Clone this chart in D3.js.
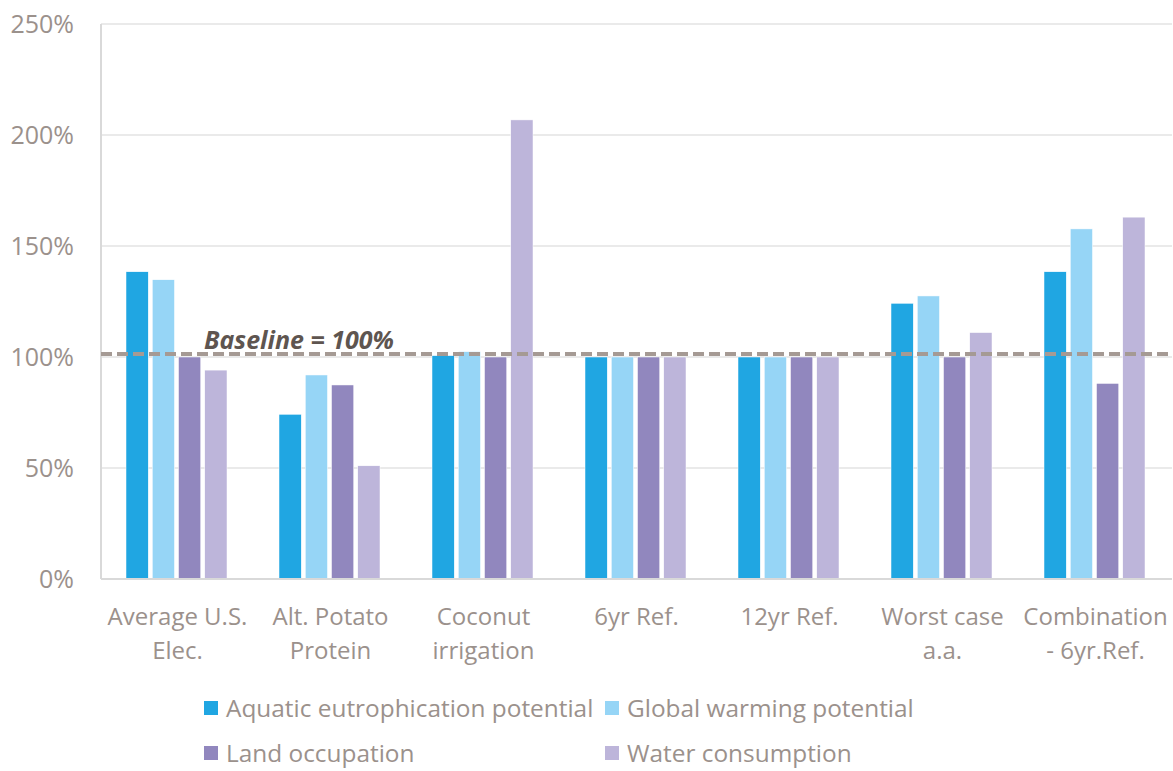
<!DOCTYPE html>
<html>
<head>
<meta charset="utf-8">
<script src="https://cdn.jsdelivr.net/npm/d3@7"></script>
<style>
  body { margin: 0; background: #fff; }
  svg text { font-family: "Open Sans", Lato, sans-serif; }
</style>
</head>
<body>
<div id="chart"></div>
<script>
// categories and series (values as fraction of baseline)
const categories = [
  ['Average U.S.', 'Elec.'],
  ['Alt. Potato', 'Protein'],
  ['Coconut', 'irrigation'],
  ['6yr Ref.'],
  ['12yr Ref.'],
  ['Worst case', 'a.a.'],
  ['Combination', '- 6yr.Ref.']
];
const seriesNames = [
  'Aquatic eutrophication potential',
  'Global warming potential',
  'Land occupation',
  'Water consumption'
];
const aquatic = [1.384, 0.742, 1.006, 1.0, 1.0, 1.242, 1.384];
const warming = [1.348, 0.919, 1.024, 1.0, 1.0, 1.275, 1.577];
const land    = [1.0,   0.874, 1.0,   1.0, 1.0, 1.0,   0.881];
const water   = [0.941, 0.51,  2.068, 1.0, 1.0, 1.11,  1.63];
const yTicks = [0, 0.5, 1, 1.5, 2, 2.5];
const baseline = 1.013;

const colors = ['#20a6e2', '#96d5f6', '#9187be', '#bdb5da'];
const seriesValues = [aquatic, warming, land, water];

const width = 1173, height = 771;
const margin = { top: 24, left: 101, right: 1, bottom: 192 };
const innerW = width - margin.left - margin.right;
const innerH = height - margin.top - margin.bottom;
const textColor = '#9b918c';

const svg = d3.select('#chart').append('svg')
  .attr('width', width)
  .attr('height', height);

const g = svg.append('g')
  .attr('transform', 'translate(' + margin.left + ',' + margin.top + ')');

const x0 = d3.scaleBand()
  .domain(d3.range(categories.length))
  .range([0, innerW])
  .paddingInner(0)
  .paddingOuter(0);

const x1 = d3.scaleBand()
  .domain(d3.range(seriesNames.length))
  .range([24, x0.bandwidth() - 24])
  .padding(0);

const y = d3.scaleLinear().domain([0, 2.5]).range([innerH, 0]);

// gridlines
g.append('g').selectAll('line')
  .data(yTicks.filter(d => d > 0))
  .enter().append('line')
    .attr('x1', 0).attr('x2', innerW)
    .attr('y1', d => y(d)).attr('y2', d => y(d))
    .attr('stroke', '#e3e3e3')
    .attr('stroke-width', 1.5);

// left axis line
g.append('line')
  .attr('x1', 0).attr('x2', 0)
  .attr('y1', 0).attr('y2', innerH)
  .attr('stroke', '#d9d9d9')
  .attr('stroke-width', 2);

// y tick labels
g.append('g').selectAll('text')
  .data(yTicks)
  .enter().append('text')
    .attr('x', -27)
    .attr('y', d => y(d))
    .attr('dy', '0.35em')
    .attr('text-anchor', 'end')
    .attr('font-size', '25px')
    .attr('fill', textColor)
    .text(d => d3.format('.0%')(d));

// bars
const groups = g.append('g').selectAll('g')
  .data(categories)
  .enter().append('g')
    .attr('transform', (d, i) => 'translate(' + x0(i) + ',0)');

groups.selectAll('rect')
  .data((d, i) => seriesValues.map((s, k) => ({ k: k, v: s[i] })))
  .enter().append('rect')
    .attr('x', d => x1(d.k) + 1)
    .attr('width', x1.bandwidth() - 4)
    .attr('y', d => y(d.v))
    .attr('height', d => innerH - y(d.v))
    .attr('fill', d => colors[d.k])
    .attr('stroke', '#fff')
    .attr('stroke-width', 0.5);

// bottom axis line
g.append('line')
  .attr('x1', 0).attr('x2', innerW)
  .attr('y1', innerH).attr('y2', innerH)
  .attr('stroke', '#d9d9d9')
  .attr('stroke-width', 2);

// category labels
const catLabels = g.append('g').selectAll('text')
  .data(categories)
  .enter().append('text')
    .attr('x', (d, i) => x0(i) + x0.bandwidth() / 2)
    .attr('y', innerH + 46)
    .attr('text-anchor', 'middle')
    .attr('font-size', '24px')
    .attr('fill', textColor);

catLabels.selectAll('tspan')
  .data(d => d)
  .enter().append('tspan')
    .attr('x', function () { return d3.select(this.parentNode).attr('x'); })
    .attr('dy', (d, i) => i === 0 ? 0 : 34)
    .text(d => d);

// baseline dashed line
g.append('line')
  .attr('x1', 0).attr('x2', innerW)
  .attr('y1', y(baseline)).attr('y2', y(baseline))
  .attr('stroke', '#a59a94')
  .attr('stroke-width', 4)
  .attr('stroke-dasharray', '11,5');

g.append('text')
  .attr('x', 103)
  .attr('y', y(baseline) - 5)
  .attr('font-size', '25px')
  .attr('font-weight', 'bold')
  .attr('font-style', 'italic')
  .attr('fill', '#5e5550')
  .text('Baseline = 100%');

// legend
const legendPos = [[204, 708], [605, 708], [204, 753], [605, 753]];
const legend = svg.append('g').selectAll('g')
  .data(seriesNames)
  .enter().append('g')
    .attr('transform', (d, i) => 'translate(' + legendPos[i][0] + ',' + legendPos[i][1] + ')');

legend.append('rect')
  .attr('x', 0).attr('y', -7)
  .attr('width', 14).attr('height', 14)
  .attr('fill', (d, i) => colors[i]);

legend.append('text')
  .attr('x', 22)
  .attr('dy', '0.35em')
  .attr('font-size', '24.4px')
  .attr('fill', textColor)
  .text(d => d);
</script>
</body>
</html>
